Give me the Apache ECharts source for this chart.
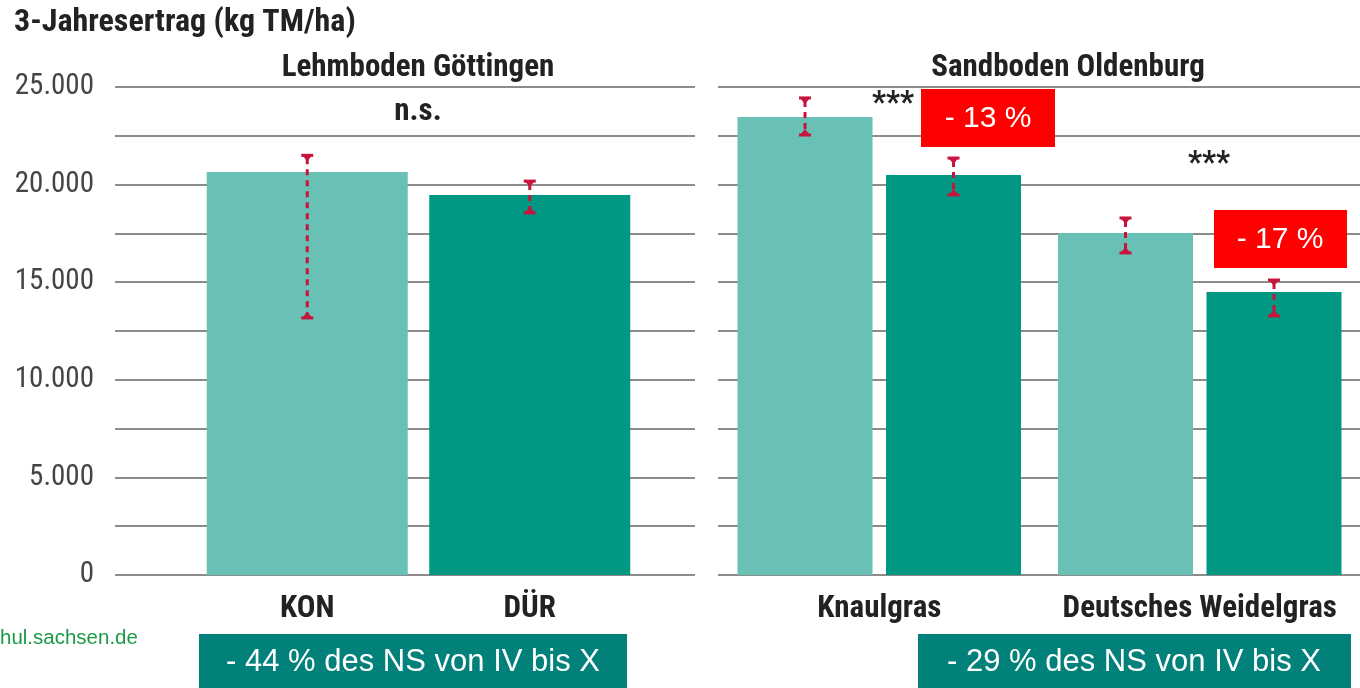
<!DOCTYPE html>
<html>
<head>
<meta charset="utf-8">
<style>
  html, body { margin: 0; padding: 0; background: #fff; }
  #chart-container { width: 1360px; height: 688px; }
</style>
<script src="https://cdn.jsdelivr.net/npm/echarts@6/dist/echarts.min.js"></script>
</head>
<body>
<div id="chart-container"></div>
<script>
// y axis
var yMin = 0;
var yMax = 25000;
var yStep = 2500;

// Lehmboden Göttingen
var leftCats = ["KON", "DÜR"];
var leftValues = [20650, 19470];
var leftLow = [13170, 18550];
var leftHigh = [21500, 20180];

// Sandboden Oldenburg
var rightCats = ["Knaulgras", "Deutsches Weidelgras"];
var konValues = [23460, 17520];
var konLow = [22540, 16500];
var konHigh = [24440, 18290];
var durValues = [20490, 14500];
var durLow = [19470, 13270];
var durHigh = [21360, 15110];

var light = "#69c0b4";
var dark = "#009883";
var errColor = "#c8143c";
var labelFont = "'Roboto Condensed', 'DejaVu Sans Condensed', Roboto, sans-serif";

var dom = document.getElementById("chart-container");
var myChart = echarts.init(dom, null, { renderer: "canvas" });

function deNum(v) {
  return String(v).replace(/\B(?=(\d{3})+(?!\d))/g, ".");
}

function errData(lo, hi) {
  return lo.map(function (v, i) {
    return [i, v, hi[i]];
  });
}

function errSeries(xi, data, offset) {
  return {
    type: "custom",
    xAxisIndex: xi,
    yAxisIndex: xi,
    z: 10,
    data: data,
    renderItem: function (params, api) {
      var top = api.coord([api.value(0), api.value(2)]);
      var bot = api.coord([api.value(0), api.value(1)]);
      var cx = top[0] + offset;
      var st = { stroke: errColor, lineWidth: 3 };
      return {
        type: "group",
        children: [
          { type: "line", shape: { x1: cx, y1: top[1] + 3, x2: cx, y2: bot[1] - 3 },
            style: { stroke: errColor, lineWidth: 3, lineDash: [6, 5] } },
          { type: "line", shape: { x1: cx - 6, y1: top[1], x2: cx + 6, y2: top[1] }, style: st },
          { type: "polygon", shape: { points: [[cx - 5, top[1]], [cx + 5, top[1]], [cx, top[1] + 6]] },
            style: { fill: errColor } },
          { type: "line", shape: { x1: cx - 6, y1: bot[1], x2: cx + 6, y2: bot[1] }, style: st },
          { type: "polygon", shape: { points: [[cx - 5, bot[1]], [cx + 5, bot[1]], [cx, bot[1] - 6]] },
            style: { fill: errColor } }
        ]
      };
    }
  };
}

var bgY = {
  type: "value",
  min: yMin,
  max: yMax,
  interval: yStep,
  axisLine: { show: false },
  axisTick: { show: false },
  splitLine: { lineStyle: { color: "#8c8c8c", width: 2 } }
};

var barY = { type: "value", min: yMin, max: yMax, interval: yStep, show: false };

var catX = function (data) {
  return {
    type: "category",
    data: data,
    axisLine: { show: false },
    axisTick: { show: false },
    axisLabel: {
      interval: 0,
      hideOverlap: false,
      margin: 19,
      fontFamily: labelFont,
      fontWeight: "bold",
      fontSize: 31,
      color: "#222"
    }
  };
};

function label(text, x, y) {
  return {
    type: "text", x: x, y: y,
    style: { text: text, font: "bold 31px " + labelFont, fill: "#222",
      align: "center", verticalAlign: "middle" }
  };
}

var option = {
  animation: false,
  grid: [
    { left: 115, width: 580, top: 87, height: 488 },
    { left: 718, width: 642, top: 87, height: 488 },
    { left: 196, width: 445, top: 87, height: 488 },
    { left: 719, width: 645, top: 87, height: 488 }
  ],
  xAxis: [
    { type: "value", gridIndex: 0, show: false, min: 0, max: 1 },
    { type: "value", gridIndex: 1, show: false, min: 0, max: 1 },
    Object.assign(catX(leftCats), { gridIndex: 2 }),
    Object.assign(catX(rightCats), { gridIndex: 3 })
  ],
  yAxis: [
    Object.assign({}, bgY, {
      gridIndex: 0,
      axisLabel: {
        margin: 21,
        fontFamily: labelFont,
        fontSize: 29,
        color: "#444",
        formatter: function (v) {
          return v % 5000 === 0 ? deNum(v) : "";
        }
      }
    }),
    Object.assign({}, bgY, { gridIndex: 1, axisLabel: { show: false } }),
    Object.assign({}, barY, { gridIndex: 2 }),
    Object.assign({}, barY, { gridIndex: 3 })
  ],
  series: [
    {
      type: "bar",
      xAxisIndex: 2,
      yAxisIndex: 2,
      barWidth: 201,
      data: leftValues,
      itemStyle: {
        color: function (p) {
          return p.dataIndex === 0 ? light : dark;
        }
      }
    },
    {
      name: "KON",
      type: "bar",
      xAxisIndex: 3,
      yAxisIndex: 3,
      barWidth: 135,
      barGap: "10%",
      data: konValues,
      itemStyle: { color: light }
    },
    {
      name: "DÜR",
      type: "bar",
      xAxisIndex: 3,
      yAxisIndex: 3,
      barWidth: 135,
      barGap: "10%",
      data: durValues,
      itemStyle: { color: dark }
    },
    errSeries(2, errData(leftLow, leftHigh), 0),
    errSeries(3, errData(konLow, konHigh), -74.25),
    errSeries(3, errData(durLow, durHigh), 74.25)
  ],
  graphic: [
    { type: "text", left: 14, top: 7,
      style: { text: "3-Jahresertrag (kg TM/ha)", font: "bold 32px " + labelFont, fill: "#222" } },
    label("Lehmboden Göttingen", 418, 68),
    label("n.s.", 418, 112),
    label("Sandboden Oldenburg", 1068, 68),
    label("***", 893, 104),
    label("***", 1209, 164),
    { type: "rect", shape: { x: 921, y: 89, width: 134, height: 58 }, style: { fill: "#ff0000" }, z: 20 },
    { type: "text", x: 988, y: 119, z: 21,
      style: { text: "- 13 %", font: "30px Liberation Sans", fill: "#fff",
        align: "center", verticalAlign: "middle" } },
    { type: "rect", shape: { x: 1214, y: 210, width: 133, height: 58 }, style: { fill: "#ff0000" }, z: 20 },
    { type: "text", x: 1280, y: 240, z: 21,
      style: { text: "- 17 %", font: "30px Liberation Sans", fill: "#fff",
        align: "center", verticalAlign: "middle" } },
    { type: "text", x: 0, y: 638,
      style: { text: "hul.sachsen.de", font: "20.5px Liberation Sans", fill: "#1a9a45",
        verticalAlign: "middle" } },
    { type: "rect", shape: { x: 199, y: 634, width: 428, height: 54 }, style: { fill: "#02817b" }, z: 20 },
    { type: "text", x: 413, y: 662, z: 21,
      style: { text: "- 44 % des NS von IV bis X", font: "31px Liberation Sans", fill: "#fff",
        align: "center", verticalAlign: "middle" } },
    { type: "rect", shape: { x: 918, y: 634, width: 433, height: 54 }, style: { fill: "#02817b" }, z: 20 },
    { type: "text", x: 1134, y: 662, z: 21,
      style: { text: "- 29 % des NS von IV bis X", font: "31px Liberation Sans", fill: "#fff",
        align: "center", verticalAlign: "middle" } }
  ]
};

myChart.setOption(option);
window.addEventListener("resize", myChart.resize);
</script>
</body>
</html>
